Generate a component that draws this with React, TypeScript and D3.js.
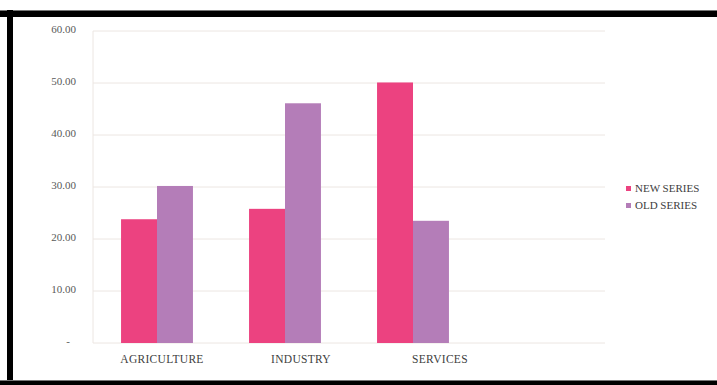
import React from "react";
import * as d3 from "d3";

const categories = ["AGRICULTURE", "INDUSTRY", "SERVICES", ""];
const seriesNames = ["NEW SERIES", "OLD SERIES"];
const newSeries = [23.8, 25.8, 50.1, null];
const oldSeries = [30.2, 46.1, 23.5, null];
const yTicks = [0, 10, 20, 30, 40, 50, 60];
const colors = ["#EC4280", "#B47DB8"];

export default function App() {
  const W = 717, H = 385;
  const left = 93, right = 605, top = 31, bottom = 343;
  const x = d3.scaleBand<string>().domain(categories.map((c, i) => i + ":" + c)).range([left, right]).paddingInner(0).paddingOuter(0);
  const y = d3.scaleLinear().domain([0, 60]).range([bottom, top]);
  const inner = d3.scaleBand<number>().domain([0, 1]).range([0, x.bandwidth()]).paddingInner(0).paddingOuter(0.78);
  const labelCats = categories.filter((c) => c !== "");
  const xLabel = d3.scalePoint<string>().domain(labelCats).range([162, 440]);
  const series = [newSeries, oldSeries];
  const fmt = (v: number) => (v === 0 ? "-" : d3.format(".2f")(v));
  const font = "'Liberation Serif', 'DejaVu Serif', serif";
  return (
    <svg width={W} height={H} style={{ position: "absolute", left: 0, top: 0, background: "#fff" }}>
      <rect x={0} y={0} width={W} height={H} fill="#fff" />
      {/* frame */}
      <rect x={0} y={10} width={W} height={7} fill="#000" />
      <rect x={0} y={10} width={W} height={1} fill="#777" />
      <rect x={7} y={10} width={6} height={H - 10} fill="#000" />
      <rect x={0} y={381} width={W} height={4} fill="#000" />
      <rect x={0} y={380} width={W} height={1} fill="#777" />
      {/* gridlines */}
      {yTicks.map((t) => (
        <line key={t} x1={left} x2={right} y1={y(t)} y2={y(t)} stroke="#ECE6E2" strokeWidth={1} />
      ))}
      <line x1={left} x2={left} y1={top} y2={bottom} stroke="#ECE6E2" strokeWidth={1} />
      {/* y labels */}
      {yTicks.map((t) => (
        <text key={t} x={t === 0 ? 70 : 76} y={y(t) + 1.5} textAnchor="end" fontFamily={font} fontSize={11} fill="#595959">
          {fmt(t)}
        </text>
      ))}
      {/* bars */}
      {categories.map((c, i) =>
        series.map((s, j) => {
          const v = s[i];
          if (v == null) return null;
          const bx = (x(i + ":" + c) as number) + (inner(j) as number);
          return <rect key={i + "-" + j} x={bx} y={y(v)} width={inner.bandwidth()} height={y(0) - y(v)} fill={colors[j]} />;
        })
      )}
      {/* x labels */}
      {labelCats.map((c) => (
        <text key={c} x={xLabel(c) as number} y={363} textAnchor="middle" fontFamily={font} fontSize={11.5} letterSpacing={0.3} fill="#404040">
          {c}
        </text>
      ))}
      {/* legend */}
      {seriesNames.map((n, j) => (
        <g key={n}>
          <rect x={626} y={186 + j * 17} width={5} height={5} fill={colors[j]} />
          <text x={635} y={192 + j * 17} fontFamily={font} fontSize={11} fill="#404040">
            {n}
          </text>
        </g>
      ))}
    </svg>
  );
}
